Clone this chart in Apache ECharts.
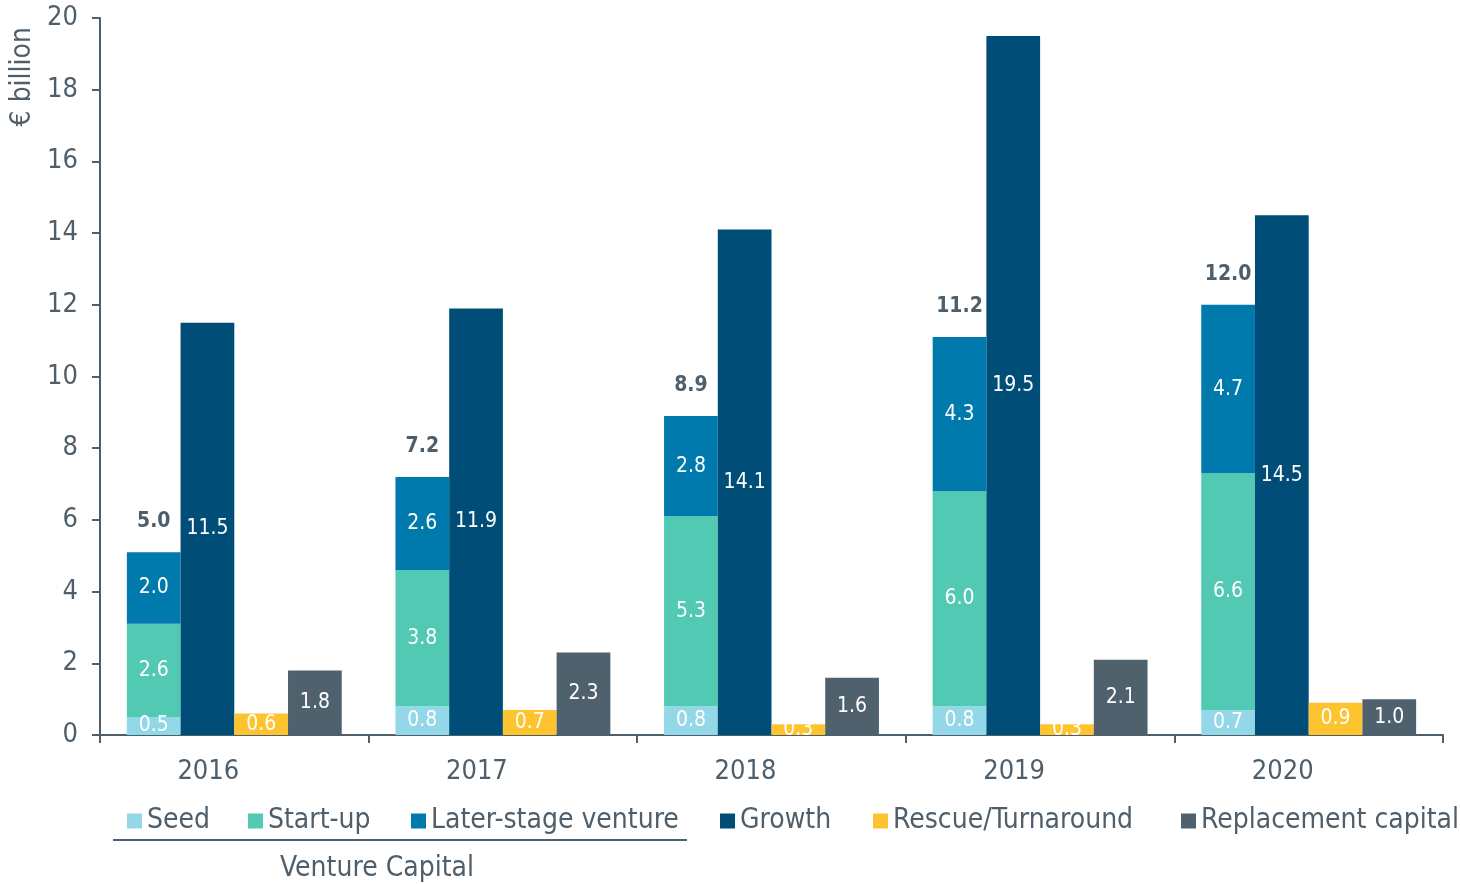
<!DOCTYPE html>
<html>
<head>
<meta charset="utf-8">
<script src="https://cdn.jsdelivr.net/npm/echarts@6/dist/echarts.min.js"></script>
<style>
html,body{margin:0;padding:0;background:#fff;}
#chart{width:1460px;height:884px;}
</style>
</head>
<body>
<div id="chart"></div>
<script>
var categories = ['2016', '2017', '2018', '2019', '2020'];
var seed = [0.5, 0.8, 0.8, 0.8, 0.7];
var startUp = [2.6, 3.8, 5.3, 6.0, 6.6];
var laterStage = [2.0, 2.6, 2.8, 4.3, 4.7];
var vcTotal = [5.0, 7.2, 8.9, 11.2, 12.0];
var growth = [11.5, 11.9, 14.1, 19.5, 14.5];
var rescue = [0.6, 0.7, 0.3, 0.3, 0.9];
var replacement = [1.8, 2.3, 1.6, 2.1, 1.0];
var yTicks = [0, 20, 2];

var FONT = '"DejaVu Sans Condensed", "DejaVu Sans", sans-serif';
var TXT = '#4E5F6B';
var colors = {
  seed: '#92D8E8', start: '#52C9B3', later: '#0079AD',
  growth: '#004E78', rescue: '#FDC42F', repl: '#4F616D'
};

function inLabel() {
  return {
    show: true, position: 'inside', color: '#fff', fontFamily: FONT, fontSize: 21,
    formatter: function (p) { return Number(p.value).toFixed(1); }
  };
}

function legendAt(name, left) {
  return {
    data: [name], left: left, top: 807, icon: 'rect', itemWidth: 15, itemHeight: 15,
    itemGap: 0, padding: 0,
    textStyle: { fontFamily: FONT, fontSize: 28, color: TXT, padding: [0, 0, 0, 0] }
  };
}

var chart = echarts.init(document.getElementById('chart'), null, { renderer: 'canvas' });
chart.setOption({
  animation: false,
  textStyle: { fontFamily: FONT },
  grid: { left: 100, right: 17, top: 18, bottom: 149 },
  legend: [
    legendAt('Seed', 127),
    legendAt('Start-up', 248),
    legendAt('Later-stage venture', 411),
    legendAt('Growth', 720),
    legendAt('Rescue/Turnaround', 873),
    legendAt('Replacement capital', 1181)
  ],
  xAxis: {
    type: 'category', data: categories,
    axisLine: { lineStyle: { color: TXT, width: 2 } },
    axisTick: { show: true, length: 8, lineStyle: { color: TXT, width: 2 } },
    axisLabel: { fontFamily: FONT, fontSize: 27, color: TXT, margin: 23, padding: [0, 52, 0, 0] }
  },
  yAxis: {
    type: 'value', min: yTicks[0], max: yTicks[1], interval: yTicks[2],
    axisLine: { show: true, lineStyle: { color: TXT, width: 2 } },
    axisTick: { show: true, length: 8, lineStyle: { color: TXT, width: 2 } },
    splitLine: { show: false },
    axisLabel: { fontFamily: FONT, fontSize: 27, color: TXT, margin: 22 }
  },
  graphic: [
    { type: 'text', left: 9, top: 27, rotation: Math.PI / 2,
      style: { text: '€ billion', fontFamily: FONT, fontSize: 28, fill: TXT } },
    { type: 'line', shape: { x1: 113, y1: 840, x2: 687, y2: 840 },
      style: { stroke: TXT, lineWidth: 2 } },
    { type: 'text', x: 377, y: 869,
      style: { text: 'Venture Capital', fontFamily: FONT, fontSize: 28, fill: TXT,
        align: 'center', verticalAlign: 'middle' } }
  ],
  series: [
    { name: 'Seed', type: 'bar', stack: 'vc', data: seed, barGap: '0%', barCategoryGap: '20%',
      itemStyle: { color: colors.seed }, label: inLabel() },
    { name: 'Start-up', type: 'bar', stack: 'vc', data: startUp,
      itemStyle: { color: colors.start }, label: inLabel() },
    { name: 'Later-stage venture', type: 'bar', stack: 'vc', data: laterStage,
      itemStyle: { color: colors.later }, label: inLabel() },
    { name: 'VC total', type: 'bar', stack: 'vc', data: vcTotal.map(function () { return 0; }),
      itemStyle: { color: 'transparent' },
      label: { show: true, position: 'top', distance: 20, color: TXT, fontWeight: 'bold',
        fontFamily: FONT, fontSize: 21,
        formatter: function (p) { return vcTotal[p.dataIndex].toFixed(1); } } },
    { name: 'Growth', type: 'bar', data: growth, barGap: '0%',
      itemStyle: { color: colors.growth }, label: inLabel() },
    { name: 'Rescue/Turnaround', type: 'bar', data: rescue, barGap: '0%',
      itemStyle: { color: colors.rescue }, label: inLabel() },
    { name: 'Replacement capital', type: 'bar', data: replacement, barGap: '0%',
      itemStyle: { color: colors.repl }, label: inLabel() }
  ]
});
</script>
</body>
</html>
